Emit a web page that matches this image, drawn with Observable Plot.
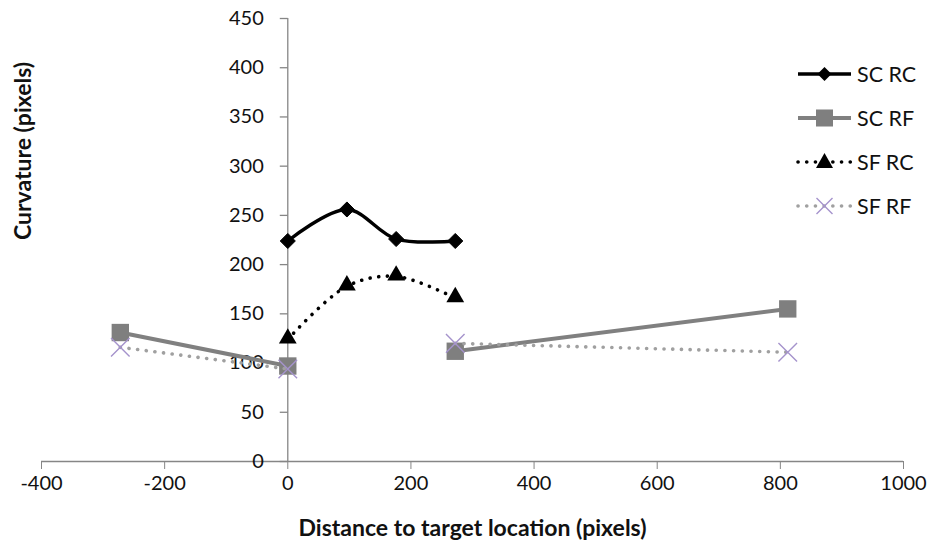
<!DOCTYPE html>
<html>
<head>
<meta charset="utf-8">
<script src="https://cdn.jsdelivr.net/npm/d3@7"></script>
<script src="https://cdn.jsdelivr.net/npm/@observablehq/plot@0.6"></script>
<style>
  html, body { margin: 0; padding: 0; background: #fff; }
  #wrap { position: relative; width: 932px; height: 546px; font-family: Lato, "Open Sans", sans-serif; }
  #legend { position: absolute; left: 796px; top: 52px; }
  .row { display: flex; align-items: center; height: 44px; font-size: 21.5px; color: #111; }
  .row svg { margin-right: 4px; }
</style>
</head>
<body>
<div id="wrap"></div>
<script>
// ---- data ----
const xTicks = [-400, -200, 0, 200, 400, 600, 800, 1000];
const yTicks = [0, 50, 100, 150, 200, 250, 300, 350, 400, 450];

const rcDistance = [0, 96, 176, 272];
const scRc = [224, 256, 226, 224];
const sfRc = [124, 178, 188, 166];

const rfDistance = [-272, 0, 272, 812];
const rfSegment = [0, 0, 1, 1];
const scRf = [131, 97, 112, 155];
const sfRf = [116, 94, 120, 111];

const seriesNames = ["SC RC", "SC RF", "SF RC", "SF RF"];
const xLabel = "Distance to target location (pixels)";
const yLabel = "Curvature (pixels)";

// ---- tables ----
const rcRows = (vals) => rcDistance.map((x, i) => ({x, y: vals[i]}));
const rfRows = (vals) => rfDistance.map((x, i) => ({x, y: vals[i], seg: rfSegment[i]}));

const axisGray = "#868686";
const leftTick = { draw(ctx) { ctx.moveTo(-8, 0); ctx.lineTo(0, 0); } };

const dotted = {strokeDasharray: "0.1 8.6", strokeLinecap: "round", strokeWidth: 3.6};

const plot = Plot.plot({
  width: 932,
  height: 546,
  marginLeft: 41,
  marginRight: 29,
  marginTop: 18,
  marginBottom: 85,
  x: {domain: [-400, 1000], axis: null},
  y: {domain: [0, 450], axis: null},
  style: {fontFamily: "Lato, 'Open Sans', sans-serif", fontSize: "20px", background: "white", color: "#111"},
  marks: [
    Plot.ruleY([0], {stroke: axisGray, strokeWidth: 1.3}),
    Plot.ruleX([0], {stroke: axisGray, strokeWidth: 1.3}),
    Plot.axisX({ticks: xTicks, tickSize: 8, tickPadding: 6, stroke: axisGray, fill: "#111", tickFormat: d => String(d), label: null}),
    Plot.dot(yTicks, {x: 0, y: d => d, symbol: leftTick, stroke: axisGray, strokeWidth: 1.3, r: 3}),
    Plot.text(yTicks, {x: 0, y: d => d, text: d => String(d), textAnchor: "end", dx: -24, fill: "#111"}),
    Plot.text([xLabel], {frameAnchor: "bottom", lineAnchor: "middle", dy: 67, text: d => d, fontWeight: "bold", fontSize: 23, fill: "#111"}),
    Plot.text([yLabel], {frameAnchor: "left", lineAnchor: "middle", dx: -18, rotate: -90, text: d => d, fontWeight: "bold", fontSize: 23, fill: "#111"}),

    // SC RC
    Plot.line(rcRows(scRc), {x: "x", y: "y", curve: "catmull-rom", stroke: "#000", strokeWidth: 3.4}),
    Plot.dot(rcRows(scRc), {x: "x", y: "y", symbol: "diamond2", r: 6.8, fill: "#000", stroke: "#000", strokeWidth: 1}),
    // SC RF
    Plot.line(rfRows(scRf), {x: "x", y: "y", z: "seg", stroke: "#808080", strokeWidth: 4}),
    Plot.dot(rfRows(scRf), {x: "x", y: "y", symbol: "square", r: 9.8, fill: "#7f7f7f"}),
    // SF RC
    Plot.line(rcRows(sfRc), {x: "x", y: "y", curve: "catmull-rom", stroke: "#000", ...dotted}),
    Plot.dot(rcRows(sfRc), {x: "x", y: "y", symbol: "triangle", r: 6.6, fill: "#000", dy: -1}),
    // SF RF
    Plot.line(rfRows(sfRf), {x: "x", y: "y", z: "seg", stroke: "#a0a0a0", ...dotted}),
    Plot.dot(rfRows(sfRf), {x: "x", y: "y", symbol: "times", r: 8.5, stroke: "#a593cc", strokeWidth: 1.4})
  ]
});

const wrap = document.getElementById("wrap");
wrap.appendChild(plot);

// ---- legend ----
const legend = d3.select(wrap).append("div").attr("id", "legend");
const swatch = [
  {stroke: "#000", width: 3.4, dash: null, marker: "diamond"},
  {stroke: "#808080", width: 4, dash: null, marker: "square"},
  {stroke: "#000", width: 3.6, dash: "0.1 8.6", marker: "triangle"},
  {stroke: "#a0a0a0", width: 3.6, dash: "0.1 8.6", marker: "times"}
];
seriesNames.forEach((name, i) => {
  const s = swatch[i];
  const row = legend.append("div").attr("class", "row");
  const svg = row.append("svg").attr("width", 57).attr("height", 22);
  const line = svg.append("line").attr("x1", 2).attr("x2", 55).attr("y1", 11).attr("y2", 11)
    .attr("stroke", s.stroke).attr("stroke-width", s.width);
  if (s.dash) line.attr("stroke-dasharray", s.dash).attr("stroke-linecap", "round");
  const g = svg.append("g").attr("transform", "translate(28.5,11)");
  if (s.marker === "diamond") g.append("path").attr("d", "M0,-7L7,0L0,7L-7,0Z").attr("fill", "#000");
  if (s.marker === "square") g.append("rect").attr("x", -8.5).attr("y", -8.5).attr("width", 17).attr("height", 17).attr("fill", "#7f7f7f");
  if (s.marker === "triangle") g.append("path").attr("d", "M0,-9L8.5,6L-8.5,6Z").attr("fill", "#000");
  if (s.marker === "times") g.append("path").attr("d", "M-8,-8L8,8M-8,8L8,-8").attr("stroke", "#a593cc").attr("stroke-width", 1.4);
  row.append("span").text(name);
});
</script>
</body>
</html>
